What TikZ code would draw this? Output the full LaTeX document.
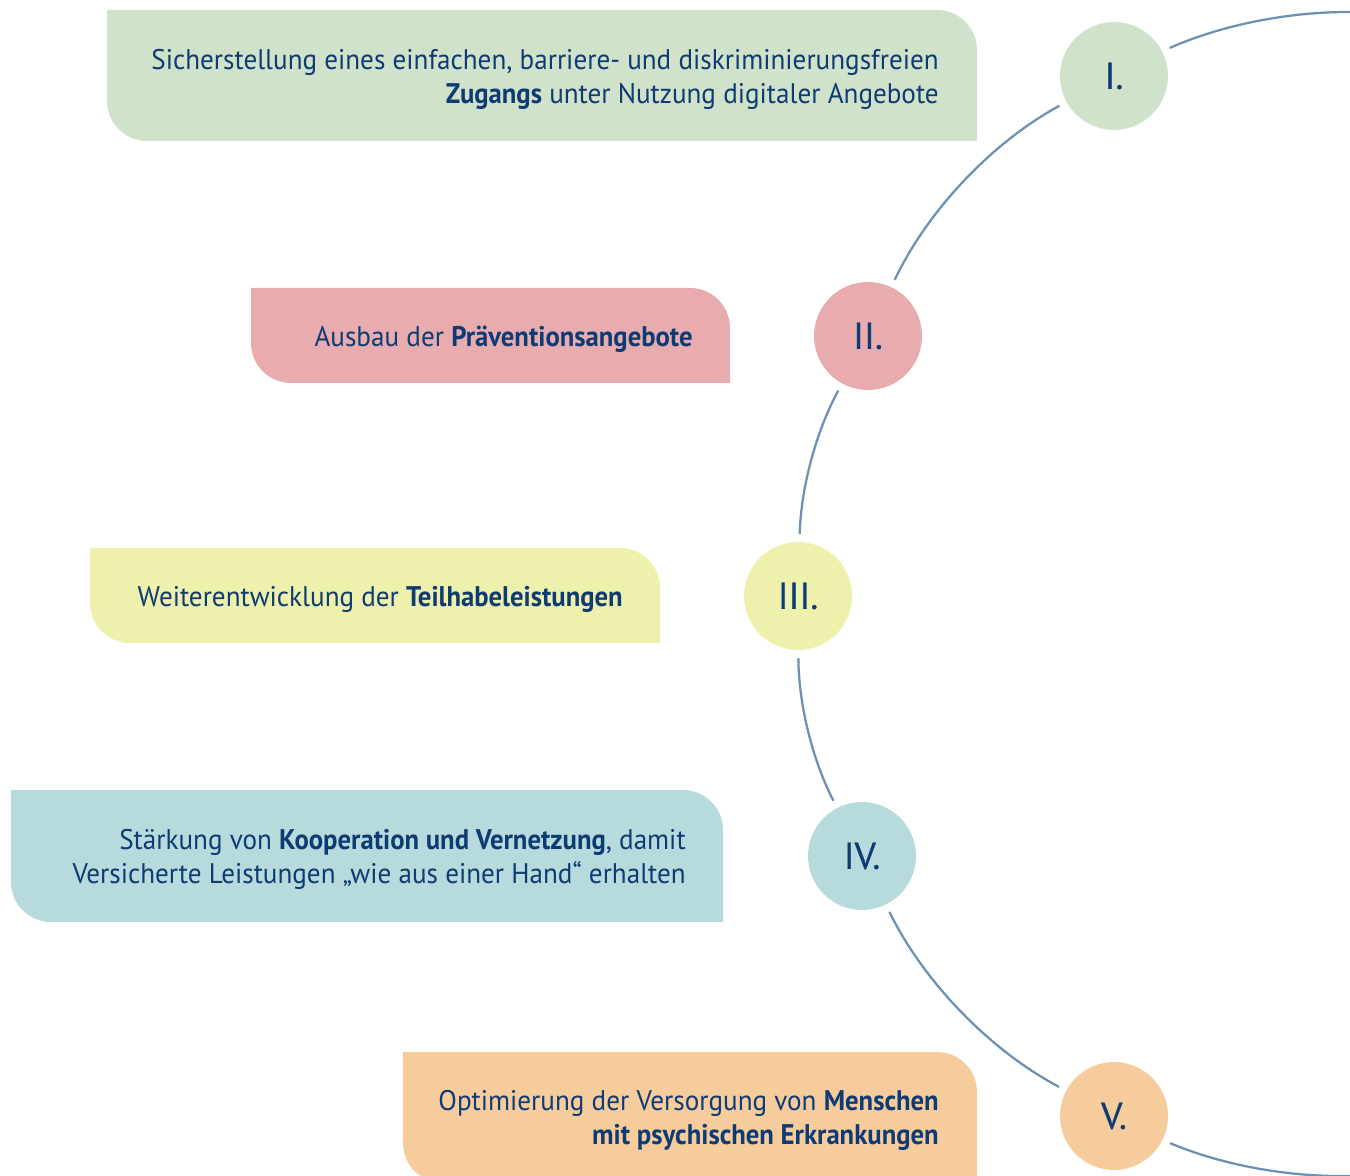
\documentclass[tikz,border=0pt]{standalone}
\usepackage{fontspec}
\setmainfont[FakeStretch=0.955,BoldFeatures={FakeStretch=0.94}]{PT Sans}
\newfontfamily\numfont[FakeBold=0.5]{PT Sans}
\usetikzlibrary{calc}
\definecolor{cgreen}{HTML}{D1E2CA}
\definecolor{cpink}{HTML}{E8ACAE}
\definecolor{cyellow}{HTML}{EEF1AB}
\definecolor{cteal}{HTML}{B7DADC}
\definecolor{corange}{HTML}{F7CC9C}
\definecolor{navy}{HTML}{0E3B73}
\definecolor{linec}{HTML}{6C91B3}
\newcommand{\tagbox}[5]{%
  \fill[#5] (#1,-#2) -- ({#3-40},-#2) arc[start angle=90,end angle=0,radius=40]
    -- (#3,-#4) -- ({#1+40},-#4) arc[start angle=270,end angle=180,radius=40] -- cycle;}
\begin{document}
\begin{tikzpicture}[x=0.75pt,y=0.75pt,
  txt/.style={anchor=east,align=right,text=navy,font=\fontsize{21.3}{25.5}\selectfont,inner sep=0pt},
  num/.style={circle,minimum size=81pt,inner sep=0pt,text=navy,font=\numfont\fontsize{28}{32}\selectfont},
  conn/.style={draw=linec,line width=1.7pt,shorten <=6pt,shorten >=6pt,looseness=0.85}]
\useasboundingbox (0,0) rectangle (1350,-1176);
\begin{scope}
\clip (0,0) rectangle (1350,-1176);
\tagbox{107}{10}{977}{141}{cgreen}
\tagbox{251}{288}{730}{383}{cpink}
\tagbox{90}{548}{660}{643}{cyellow}
\tagbox{11}{790}{723}{922}{cteal}
\tagbox{403}{1052}{977}{1183}{corange}
\end{scope}
\node[txt] (t1) at (939,-79) {Sicherstellung eines einfachen, barriere- und diskriminierungsfreien\\\textbf{Zugangs} unter Nutzung digitaler Angebote};
\node[txt] (t2) at (693,-339) {Ausbau der \textbf{Präventionsangebote}};
\node[txt] (t3) at (623,-599) {Weiterentwicklung der \textbf{Teilhabeleistungen}};
\node[txt] (t4) at (686,-859) {Stärkung von \textbf{Kooperation und Vernetzung}, damit\\Versicherte Leistungen „wie aus einer Hand“ erhalten};
\node[txt] (t5) at (939,-1120) {Optimierung der Versorgung von \textbf{Menschen}\\\textbf{mit psychischen Erkrankungen}};
\node[num,fill=cgreen] (n1) at (1114,-76) {I.};
\node[num,fill=cpink] (n2) at (868,-336) {II.};
\node[num,fill=cyellow] (n3) at (798,-596) {III.};
\node[num,fill=cteal] (n4) at (862,-856) {IV.};
\node[num,fill=corange] (n5) at (1114,-1116) {V.};
\coordinate (top) at (1350,-12);
\coordinate (bot) at (1350,-1176);
\draw[conn,shorten <=0pt] (top) to[bend right=12] (n1);
\draw[conn] (n1) to[bend right=18] (n2);
\draw[conn] (n2) to[bend right=13.5] (n3);
\draw[conn] (n3) to[bend right=13.5] (n4);
\draw[conn] (n4) to[bend right=18] (n5);
\draw[conn,shorten >=0pt] (n5) to[bend right=12] (bot);
\end{tikzpicture}
\end{document}
